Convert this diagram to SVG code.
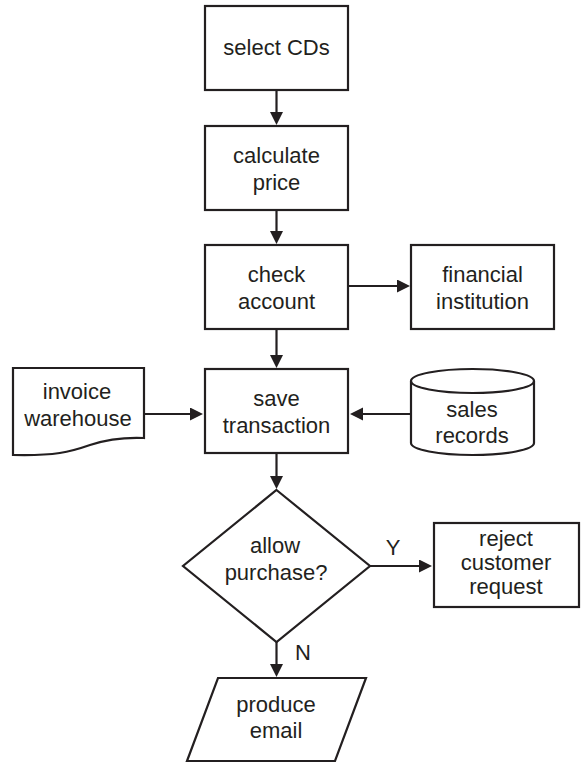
<svg xmlns="http://www.w3.org/2000/svg" width="581" height="763" viewBox="0 0 581 763">
<style>
.shape{fill:#fff;stroke:#231f20;stroke-width:2.2}
.line{fill:none;stroke:#231f20;stroke-width:2.2}
text{font-family:"Liberation Sans",Arial,sans-serif;font-size:22px;fill:#231f20;text-anchor:middle}
</style>
<defs>
<marker id="arr" markerUnits="userSpaceOnUse" markerWidth="14" markerHeight="14" refX="3" refY="6.5" orient="auto">
<path d="M0,0 L13,6.5 L0,13 Z" fill="#231f20"/>
</marker>
</defs>
<rect width="581" height="763" fill="#fff"/>
<g id="connectors">
<line class="line" x1="276.5" y1="90" x2="276.5" y2="115" marker-end="url(#arr)"/>
<line class="line" x1="276.5" y1="210" x2="276.5" y2="234" marker-end="url(#arr)"/>
<line class="line" x1="276.5" y1="329" x2="276.5" y2="358" marker-end="url(#arr)"/>
<line class="line" x1="348" y1="286" x2="400" y2="286" marker-end="url(#arr)"/>
<line class="line" x1="144" y1="414" x2="193" y2="414" marker-end="url(#arr)"/>
<line class="line" x1="411" y1="414" x2="360" y2="414" marker-end="url(#arr)"/>
<line class="line" x1="276.5" y1="453" x2="276.5" y2="479" marker-end="url(#arr)"/>
<line class="line" x1="370" y1="566" x2="422" y2="566" marker-end="url(#arr)"/>
<line class="line" x1="276.5" y1="642" x2="276.5" y2="667" marker-end="url(#arr)"/>
<text x="393" y="555">Y</text>
<text x="303" y="660">N</text>
</g>
<g id="select-cds">
<rect class="shape" x="205" y="6" width="143" height="84"/>
<text x="276.5" y="55">select CDs</text>
</g>
<g id="calculate-price">
<rect class="shape" x="205" y="126" width="143" height="84"/>
<text x="276.5" y="163">calculate</text>
<text x="276.5" y="190">price</text>
</g>
<g id="check-account">
<rect class="shape" x="205" y="245" width="143" height="84"/>
<text x="276.5" y="281.5">check</text>
<text x="276.5" y="308.5">account</text>
</g>
<g id="financial-institution">
<rect class="shape" x="411" y="245" width="143" height="84"/>
<text x="482.5" y="281.5">financial</text>
<text x="482.5" y="308.5">institution</text>
</g>
<g id="save-transaction">
<rect class="shape" x="205" y="369" width="143" height="84"/>
<text x="276.5" y="405.5">save</text>
<text x="276.5" y="432.5">transaction</text>
</g>
<g id="invoice-warehouse">
<path class="shape" d="M13,368 H144 V438 C120,437 105,440 90,445 C70,452 55,456 13,455 Z"/>
<text x="77" y="399">invoice</text>
<text x="78" y="426">warehouse</text>
</g>
<g id="sales-records">
<path class="shape" d="M411,381 A61.5,12 0 0 1 534,381 V443 A61.5,12 0 0 1 411,443 Z"/>
<path class="line" d="M411,381 A61.5,12 0 0 0 534,381"/>
<text x="472" y="417">sales</text>
<text x="472" y="443">records</text>
</g>
<g id="allow-purchase">
<polygon class="shape" points="276.5,490 370,566 276.5,642 183,566"/>
<text x="275" y="553">allow</text>
<text x="276" y="580">purchase?</text>
</g>
<g id="reject-customer-request">
<rect class="shape" x="434" y="523" width="145" height="84"/>
<text x="506" y="546">reject</text>
<text x="506" y="570">customer</text>
<text x="506" y="594">request</text>
</g>
<g id="produce-email">
<polygon class="shape" points="218,678 366,678 335,761 187,761"/>
<text x="276" y="712">produce</text>
<text x="276" y="738">email</text>
</g>
</svg>
